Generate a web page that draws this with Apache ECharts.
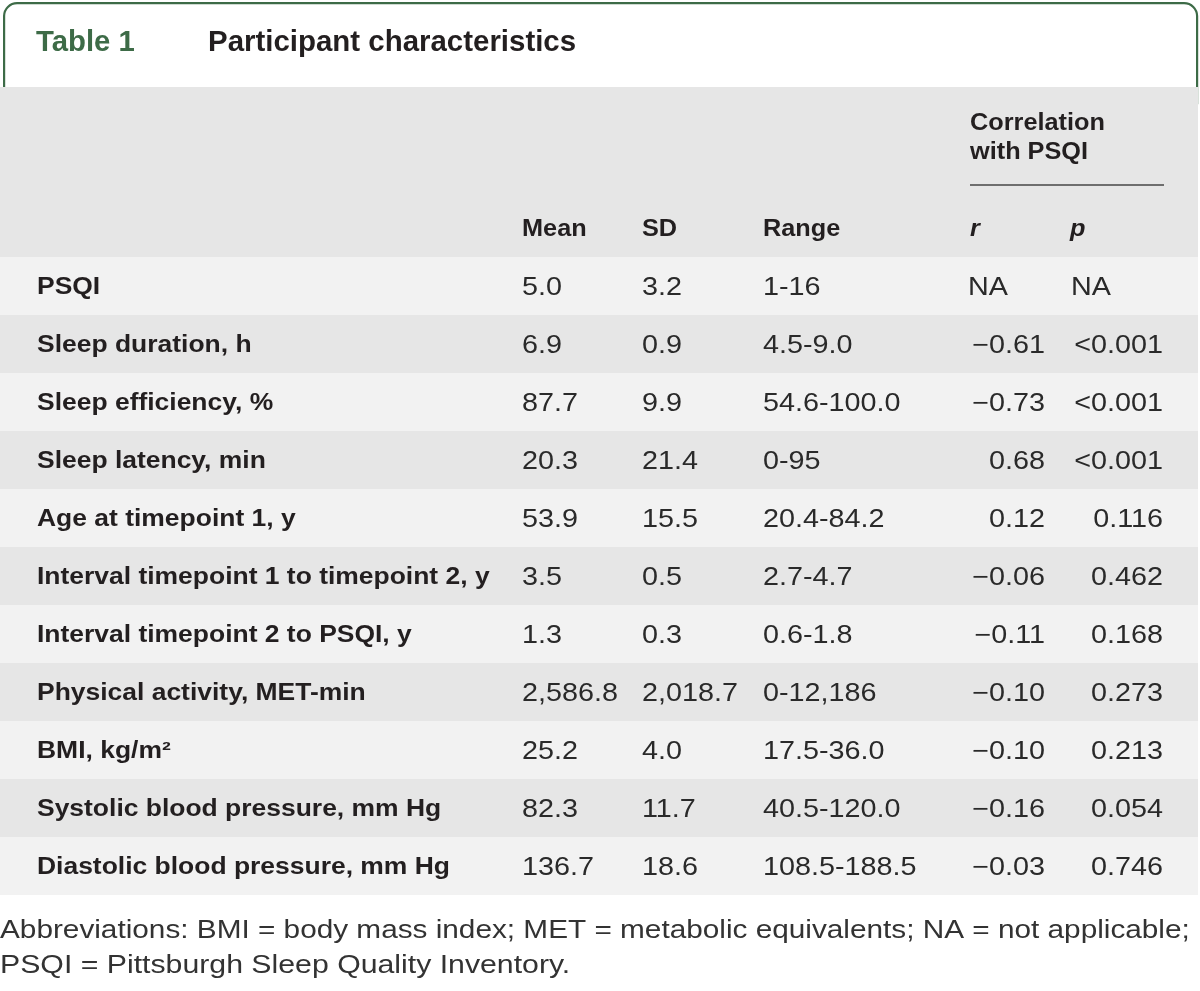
<!DOCTYPE html>
<html>
<head>
<meta charset="utf-8">
<script src="https://cdn.jsdelivr.net/npm/echarts@6/dist/echarts.min.js"></script>
<style>
html,body{margin:0;padding:0;background:#fff;}
#chart{width:1200px;height:991px;}
</style>
</head>
<body>
<div id="chart"></div>
<script>
// ---- data ----
const rowLabels = [
  'PSQI',
  'Sleep duration, h',
  'Sleep efficiency, %',
  'Sleep latency, min',
  'Age at timepoint 1, y',
  'Interval timepoint 1 to timepoint 2, y',
  'Interval timepoint 2 to PSQI, y',
  'Physical activity, MET-min',
  'BMI, kg/m\u00B2',
  'Systolic blood pressure, mm Hg',
  'Diastolic blood pressure, mm Hg'
];
const meanValues = [5.0, 6.9, 87.7, 20.3, 53.9, 3.5, 1.3, 2586.8, 25.2, 82.3, 136.7];
const sdValues = [3.2, 0.9, 9.9, 21.4, 15.5, 0.5, 0.3, 2018.7, 4.0, 11.7, 18.6];
const rangeLabels = ['1-16', '4.5-9.0', '54.6-100.0', '0-95', '20.4-84.2', '2.7-4.7', '0.6-1.8', '0-12,186', '17.5-36.0', '40.5-120.0', '108.5-188.5'];
const rValues = [null, -0.61, -0.73, 0.68, 0.12, -0.06, -0.11, -0.10, -0.10, -0.16, -0.03];
const pLabels = ['NA', '<0.001', '<0.001', '<0.001', '0.116', '0.462', '0.168', '0.273', '0.213', '0.054', '0.746'];
const columnHeaders = ['Mean', 'SD', 'Range'];
const corrHeaderLines = ['Correlation', 'with PSQI'];
const corrSubHeaders = ['r', 'p'];
const tableNumber = 'Table 1';
const tableTitle = 'Participant characteristics';
const footnoteLines = [
  'Abbreviations: BMI = body mass index; MET = metabolic equivalents; NA = not applicable;',
  'PSQI = Pittsburgh Sleep Quality Inventory.'
];

// ---- layout / style ----
const FONT = '"Liberation Sans", Arial, sans-serif';
const SX = 1.15;
const TEXT = '#231f20';
const NUM = '#2a2a2a';
const GREEN = '#3d6b47';
const DY = 2;
const colX = { label: 37, mean: 522, sd: 642, range: 763, rRight: 1045, rLeft: 968, pRight: 1163, pLeft: 1071 };

function fmt1(v) {
  return v.toLocaleString('en-US', { minimumFractionDigits: 1, maximumFractionDigits: 1 });
}
function fmtR(v) {
  if (v === null) return 'NA';
  return (v < 0 ? '\u2212' : '') + Math.abs(v).toFixed(2);
}

function txt(x, y, text, opt) {
  opt = opt || {};
  return {
    type: 'text', x: x, y: y, scaleX: opt.sx == null ? SX : opt.sx,
    style: {
      text: text,
      fill: opt.fill || TEXT,
      font: (opt.style || 'normal') + ' ' + (opt.weight || 'normal') + ' ' + (opt.size || 25) + 'px ' + FONT,
      align: opt.align || 'left',
      verticalAlign: 'middle'
    }
  };
}

const chart = echarts.init(document.getElementById('chart'), null, { renderer: 'canvas' });

function renderRow(params, api) {
  const i = api.value(1);
  const c = api.coord([0, i]);
  const yc = c[1];
  const band = api.size([0, 1])[1];
  const x0 = api.coord([0, i])[0];
  const x1 = api.coord([1198, i])[0];
  const children = [
    {
      type: 'rect',
      shape: { x: x0, y: yc - band / 2, width: x1 - x0, height: band },
      style: { fill: i % 2 === 0 ? '#f2f2f2' : '#e6e6e6' },
      z2: 0
    }
  ];
  const y = yc + DY;
  children.push(txt(api.coord([colX.label, i])[0], y, rowLabels[i], { weight: 'bold', size: 23, sx: 1.15 }));
  children.push(txt(api.coord([colX.mean, i])[0], y, fmt1(meanValues[i]), { fill: NUM }));
  children.push(txt(api.coord([colX.sd, i])[0], y, fmt1(sdValues[i]), { fill: NUM }));
  children.push(txt(api.coord([colX.range, i])[0], y, rangeLabels[i], { fill: NUM }));
  if (rValues[i] === null) {
    children.push(txt(api.coord([colX.rLeft, i])[0], y, 'NA', { fill: NUM }));
  } else {
    children.push(txt(api.coord([colX.rRight, i])[0], y, fmtR(rValues[i]), { fill: NUM, align: 'right' }));
  }
  if (pLabels[i] === 'NA') {
    children.push(txt(api.coord([colX.pLeft, i])[0], y, pLabels[i], { fill: NUM }));
  } else {
    children.push(txt(api.coord([colX.pRight, i])[0], y, pLabels[i], { fill: NUM, align: 'right' }));
  }
  return { type: 'group', children: children };
}

function headText(x, y, text, opt) {
  opt = opt || {};
  return {
    type: 'text', x: x, y: y + DY, z: 3, scaleX: opt.sx || 1.1,
    style: {
      text: text, fill: opt.fill || TEXT,
      font: (opt.font || 'bold 23px') + ' ' + FONT,
      verticalAlign: 'middle'
    }
  };
}

const headerGraphics = [
  // tab border
  {
    type: 'rect', left: 3, top: 2, z: 1,
    shape: { width: 1193, height: 100, r: [13, 13, 0, 0] },
    style: { fill: '#ffffff', stroke: GREEN, lineWidth: 2.2 }
  },
  // header band
  {
    type: 'rect', left: 0, top: 87, z: 2,
    shape: { width: 1198, height: 170 },
    style: { fill: '#e6e6e6' }
  },
  headText(36, 41, tableNumber, { fill: GREEN, font: 'bold 29px', sx: 1.01 }),
  headText(208, 41, tableTitle, { font: 'bold 29px', sx: 1.015 }),
  // correlation group header
  headText(970, 122, corrHeaderLines[0]),
  headText(970, 151, corrHeaderLines[1]),
  { type: 'line', z: 3, shape: { x1: 970, y1: 185, x2: 1164, y2: 185 }, style: { stroke: '#6e6e6e', lineWidth: 2 } },
  headText(colX.mean, 228, columnHeaders[0]),
  headText(colX.sd, 228, columnHeaders[1]),
  headText(colX.range, 228, columnHeaders[2]),
  headText(970, 228, corrSubHeaders[0], { font: 'italic bold 23px' }),
  headText(1070, 228, corrSubHeaders[1], { font: 'italic bold 23px' }),
  // footnote
  headText(0, 929, footnoteLines[0], { fill: '#333333', font: 'normal 25px', sx: 1.19 }),
  headText(0, 964, footnoteLines[1], { fill: '#333333', font: 'normal 25px', sx: 1.21 })
];

const option = {
  animation: false,
  backgroundColor: '#ffffff',
  grid: { left: 0, top: 257, width: 1200, height: 638, containLabel: false },
  xAxis: { type: 'value', min: 0, max: 1200, show: false },
  yAxis: { type: 'category', data: rowLabels, inverse: true, show: false, boundaryGap: true },
  graphic: headerGraphics,
  series: [{
    type: 'custom',
    clip: false,
    silent: true,
    renderItem: renderRow,
    encode: { x: 0, y: 1 },
    data: rowLabels.map(function (n, i) { return [0, i]; })
  }]
};
chart.setOption(option);
</script>
</body>
</html>
